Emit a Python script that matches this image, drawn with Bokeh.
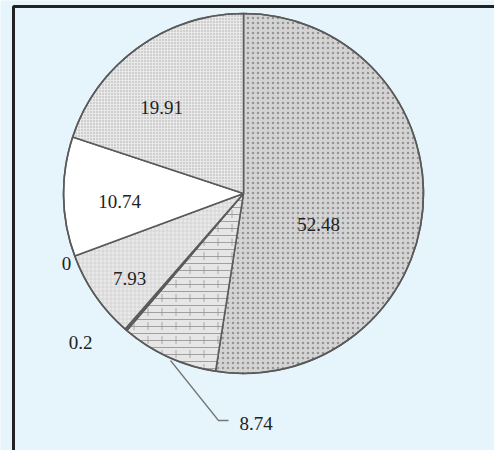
import numpy as np
from bokeh.plotting import figure
from bokeh.models import ColumnDataSource, Range1d
from bokeh.core.properties import value
from bokeh.embed import file_html
from bokeh.resources import INLINE

# ---- data (clockwise from 12 o'clock) ----
values = [52.48, 8.74, 0.2, 7.93, 0, 10.74, 19.91]
labels = ["52.48", "8.74", "0.2", "7.93", "0", "10.74", "19.91"]

# ---- styling / layout (kept separate from the data) ----
fills = ["#d4d4d4", "#e6e6e6", "#6f6f6f", "#e9e9e9", "#ffffff", "#ffffff", "#cfcfcf"]
hatches = ["dot", "horizontal_line", " ", "cross", " ", " ", "cross"]
hatch_colors = ["#858585", "#8f8f8f", "#6f6f6f", "#d0d0d0", "#ffffff", "#ffffff", "#eeeeee"]
hatch_scales = [5, 7, 6, 4, 6, 6, 3]
# label anchor points in page pixels (x right, y down)
label_px = [(318, 224), (239, 423), (80, 342), (129, 278), (66, 263), (119, 201), (161, 107)]
label_align = ["center", "left", "center", "center", "center", "center", "center"]
leader_px = [(170, 360), (218, 420), (228, 420)]

W, H = 494, 450
cx, cy_px, R = 243, 193, 180


def ty(y):  # page y (down) -> data y (up)
    return H - y


p = figure(width=W, height=H, output_backend="svg", toolbar_location=None,
           x_range=Range1d(0, W), y_range=Range1d(0, H),
           min_border=0, background_fill_color="#e6f4fb", border_fill_color="#e6f4fb")
p.axis.visible = False
p.grid.visible = False
p.outline_line_color = None

vals = np.array(values, dtype=float)
frac = vals / vals.sum()
c1 = np.cumsum(frac)
c0 = c1 - frac
start = np.deg2rad(90 - 360 * c1)
end = np.deg2rad(90 - 360 * c0)

keep = vals > 0
src = ColumnDataSource(dict(
    start=start[keep], end=end[keep],
    fill=[f for f, k in zip(fills, keep) if k],
    hatch=[h for h, k in zip(hatches, keep) if k],
    hcol=[h for h, k in zip(hatch_colors, keep) if k],
    hsc=[h for h, k in zip(hatch_scales, keep) if k],
))

p.wedge(x=cx, y=ty(cy_px), radius=R, start_angle="start", end_angle="end",
        source=src, fill_color="fill", hatch_pattern="hatch", hatch_color="hcol",
        hatch_scale="hsc", hatch_alpha=0.8, hatch_weight=1,
        line_color="#5a5a5a", line_width=1.6)

# brick verticals overlay for the 8.74 slice
i_brick = labels.index("8.74")
p.wedge(x=cx, y=ty(cy_px), radius=R, start_angle=start[i_brick], end_angle=end[i_brick],
        fill_alpha=0, hatch_pattern="vertical_dash", hatch_color="#8f8f8f",
        hatch_scale=14, hatch_alpha=0.7, line_color=None)

# outer circle outline
p.circle(x=cx, y=ty(cy_px), radius=R, fill_alpha=0, line_color="#5a5a5a", line_width=1.6)

# leader line for 8.74
p.line([q[0] for q in leader_px], [ty(q[1]) for q in leader_px], line_color="#777777", line_width=1.3)

# frame (left and top edges)
p.line([13, 13, W + 5], [ty(H + 5), ty(6), ty(6)], line_color="#222222", line_width=3)

tsrc = ColumnDataSource(dict(
    x=[q[0] for q in label_px], y=[ty(q[1]) for q in label_px],
    t=labels, a=label_align))
p.text(x="x", y="y", text="t", source=tsrc, text_align="a", text_baseline="middle",
       text_font=value("Liberation Serif"), text_font_size="19px", text_color="#222222")

open("out.html", "w").write(file_html(p, INLINE))
